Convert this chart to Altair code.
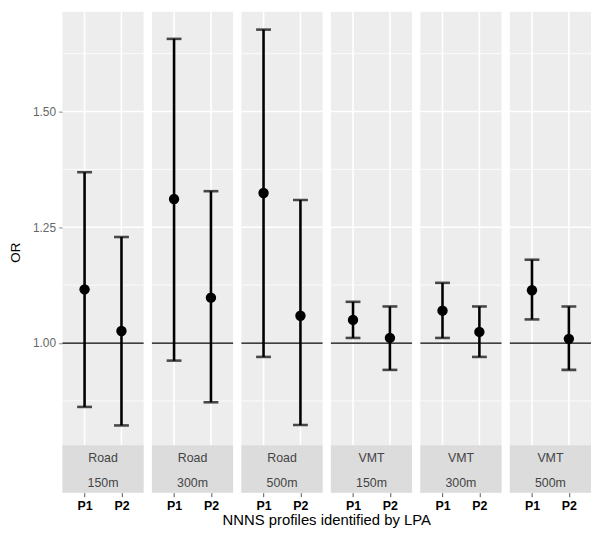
import altair as alt
import pandas as pd

types = ["Road", "Road", "Road", "VMT", "VMT", "VMT"]
buffers = ["150m", "300m", "500m", "150m", "300m", "500m"]
profiles = ["P1", "P2"]

or_p1 = [1.116, 1.311, 1.324, 1.050, 1.070, 1.114]
lo_p1 = [0.862, 0.962, 0.970, 1.011, 1.011, 1.051]
hi_p1 = [1.369, 1.657, 1.677, 1.089, 1.130, 1.180]
or_p2 = [1.026, 1.098, 1.059, 1.011, 1.024, 1.009]
lo_p2 = [0.822, 0.872, 0.823, 0.942, 0.970, 0.942]
hi_p2 = [1.229, 1.328, 1.309, 1.079, 1.079, 1.079]

major_ticks = [1.00, 1.25, 1.50]
minor_ticks = [0.875, 1.125, 1.375, 1.625]
ref_line = [1.0]
x_title = ["NNNS profiles identified by LPA"]

rows = []
for i in range(6):
    rows.append(dict(panel=i, profile="P1", OR=or_p1[i], lo=lo_p1[i], hi=hi_p1[i]))
    rows.append(dict(panel=i, profile="P2", OR=or_p2[i], lo=lo_p2[i], hi=hi_p2[i]))
df = pd.DataFrame(rows)

W = 82
SP = 8.4
H = 486
PANEL_H = 438
ydom = [0.6767, 1.7158]
yscale = alt.Scale(domain=ydom, nice=False, zero=False)
xscale = alt.Scale(type="point", padding=0.6, domain=profiles)

xaxis = alt.Axis(title=None, labelAngle=0, labelFontWeight="bold", labelColor="black",
                 labelFontSize=12.5, tickColor="#555555", tickSize=4, domain=False,
                 grid=False, labelPadding=3)


def make_panel(i):
    d = df[df.panel == i]
    if i == 0:
        yaxis = alt.Axis(values=major_ticks, format=".2f", title="OR", grid=False,
                         domain=False, tickColor="#888888", tickSize=4, labelPadding=3,
                         labelColor="#666666", labelFontSize=12, titleFontSize=13.5,
                         titleFontWeight="normal", titleColor="black", titlePadding=10)
    else:
        yaxis = None

    def Y(field):
        return alt.Y(field, scale=yscale, axis=yaxis)

    x = alt.X("profile:N", scale=xscale, axis=xaxis)

    minor = alt.Chart(pd.DataFrame({"v": minor_ticks})).mark_rule(
        color="white", strokeWidth=0.8).encode(y=Y("v:Q"))
    major = alt.Chart(pd.DataFrame({"v": major_ticks})).mark_rule(
        color="white", strokeWidth=1.6).encode(y=Y("v:Q"))
    vgrid = alt.Chart(pd.DataFrame({"profile": profiles})).mark_rule(
        color="white", strokeWidth=1.6).encode(
        x=x, y=alt.value(0), y2=alt.value(PANEL_H))
    hline = alt.Chart(pd.DataFrame({"v": ref_line})).mark_rule(
        color="black", strokeWidth=1.2).encode(y=Y("v:Q"))

    base = alt.Chart(d)
    bars = base.mark_rule(color="black", strokeWidth=2.6).encode(
        x=x, y=Y("lo:Q"), y2="hi:Q")
    cap_hi = base.mark_tick(color="black", size=15, thickness=2.6, orient="horizontal").encode(
        x=x, y=Y("hi:Q"))
    cap_lo = base.mark_tick(color="black", size=15, thickness=2.6, orient="horizontal").encode(
        x=x, y=Y("lo:Q"))
    pts = base.mark_circle(color="black", size=110, opacity=1).encode(x=x, y=Y("OR:Q"))

    strip_df = pd.DataFrame({"t": [types[i]], "b": [buffers[i]]})
    strip = alt.Chart(strip_df).mark_rect(color="#DCDCDC").encode(
        x=alt.value(0), x2=alt.value(W), y=alt.value(PANEL_H), y2=alt.value(H))
    t1 = alt.Chart(strip_df).mark_text(color="#444444", fontSize=12.5, baseline="middle").encode(
        x=alt.value(W / 2), y=alt.value(451), text="t:N")
    t2 = alt.Chart(strip_df).mark_text(color="#444444", fontSize=12.5, baseline="middle").encode(
        x=alt.value(W / 2), y=alt.value(476), text="b:N")

    layers = [minor, major, vgrid, hline, bars, cap_hi, cap_lo, pts, strip, t1, t2]
    if i == 2:
        title = alt.Chart(pd.DataFrame({"t": x_title})).mark_text(
            color="black", fontSize=15, baseline="alphabetic", align="center").encode(
            x=alt.value(W + SP / 2), y=alt.value(519), text="t:N")
        layers.append(title)
    return alt.layer(*layers).properties(width=W, height=H)


chart = alt.hconcat(*[make_panel(i) for i in range(6)], spacing=SP, bounds="flush").properties(
    padding={"left": 0, "top": 0, "right": 0, "bottom": 0},
).configure(font="Liberation Sans").configure_view(fill="#EDEDED", stroke="transparent", strokeWidth=0)

chart.save("out.html", embed_options={"renderer": "svg", "actions": False})
